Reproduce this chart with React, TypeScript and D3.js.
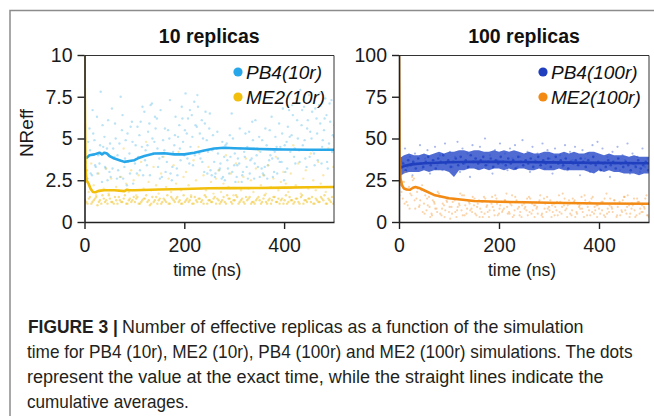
import React, { useEffect, useRef } from 'react';
import * as d3 from 'd3';

// raw NReff values sampled every STEP ns (several interleaved sets per series)
const STEP = 5;

const PB4_10_A = [4.2, 3.1, 5.6, 2.8, 4.9, 6.3, 3.5, 2.4, 5.1, 4.4, 3.0,
  6.8, 3.9, 2.6, 4.7, 5.5, 3.3, 2.2, 4.1, 6.0, 3.7,
  2.9, 5.2, 4.5, 6.6, 3.4, 5.9, 7.1, 4.8, 6.2, 3.8,
  2.7, 4.3, 3.6, 5.0, 2.5, 4.6, 3.2, 5.8, 6.9, 4.0,
  5.3, 3.5, 6.4, 7.2, 5.7, 4.1, 6.1, 3.0, 4.9, 5.6,
  2.8, 3.6, 4.4, 3.1, 2.6, 3.9, 4.7, 2.9, 6.5, 3.4,
  2.7, 3.5, 2.4, 4.2, 3.3, 5.4, 3.8, 2.6, 4.0, 5.1,
  3.2, 2.8, 4.6, 3.7, 6.3, 3.0, 4.5, 5.9, 3.6, 2.5,
  4.8, 6.7, 5.2, 3.9, 7.4, 4.3, 5.8, 6.9, 3.3, 7.6,
  5.0, 4.1, 6.2, 7.0, 3.5, 5.5, 6.4, 4.7, 7.3, 5.1];
const PB4_10_B = [3.6, 4.8, 2.9, 5.3, 3.3, 4.0, 7.8, 4.5, 3.2, 6.1, 2.7,
  4.4, 5.0, 3.1, 7.5, 2.6, 4.9, 3.6, 5.7, 2.3, 4.6,
  3.9, 6.0, 2.8, 4.3, 5.4, 7.0, 4.1, 5.6, 3.3, 6.7,
  4.9, 3.0, 5.5, 2.9, 4.2, 6.3, 5.1, 3.7, 4.8, 7.7,
  6.2, 4.5, 3.4, 5.8, 6.9, 3.8, 5.0, 6.6, 4.2, 3.1,
  5.2, 2.9, 4.1, 3.5, 2.7, 4.6, 3.2, 3.9, 5.0, 2.4,
  3.8, 4.4, 3.0, 5.3, 2.6, 3.7, 4.9, 6.1, 3.3, 4.2,
  2.9, 5.6, 3.4, 4.0, 2.7, 5.1, 3.8, 4.5, 6.8, 3.0,
  5.7, 4.2, 6.4, 3.5, 5.0, 7.9, 4.6, 3.8, 6.1, 5.4,
  4.3, 6.8, 3.7, 5.9, 4.9, 7.4, 3.2, 6.0, 5.2, 4.4];
const PB4_10_C = [5.0, 2.6, 4.3, 6.7, 3.4, 2.9, 4.6, 5.8, 3.3, 2.5, 4.7,
  3.2, 5.9, 4.0, 2.7, 6.4, 3.8, 5.3, 2.9, 4.8, 3.5,
  5.7, 3.1, 6.9, 3.7, 4.6, 2.8, 5.0, 6.3, 4.4, 2.6,
  3.9, 5.6, 4.1, 7.3, 3.3, 5.2, 2.8, 4.4, 6.2, 5.5,
  3.8, 6.7, 5.1, 4.0, 7.6, 5.3, 3.6, 5.9, 2.9, 6.5,
  4.3, 2.7, 5.4, 3.2, 4.8, 2.5, 3.7, 5.2, 3.0, 4.1,
  3.4, 5.6, 2.8, 3.9, 4.5, 2.9, 6.0, 3.5, 4.4, 2.7,
  4.9, 3.3, 2.6, 5.5, 3.8, 4.2, 2.9, 3.6, 5.3, 4.6,
  3.2, 5.1, 7.0, 4.4, 6.1, 3.6, 6.7, 4.9, 5.6, 3.9,
  6.6, 3.4, 5.3, 7.7, 4.5, 6.2, 3.6, 7.1, 4.2, 5.8];

const ME2_10_A = [1.3, 1.1, 1.5, 1.2, 1.4, 1.0, 1.3, 1.6, 1.2, 1.1, 1.4,
  1.2, 1.5, 1.1, 1.3, 1.2, 1.6, 1.1, 1.4, 1.3, 1.2,
  1.5, 1.1, 1.3, 1.4, 1.2, 1.0, 1.5, 1.3, 1.1, 1.4,
  1.2, 1.3, 1.6, 1.1, 1.4, 1.2, 1.5, 1.3, 1.1, 1.2,
  1.4, 1.3, 1.1, 1.5, 1.2, 1.4, 1.3, 1.6, 1.1, 1.3,
  1.2, 1.5, 1.4, 1.1, 1.3, 1.2, 1.6, 1.4, 1.1, 1.3,
  1.5, 1.2, 1.4, 1.1, 1.3, 1.5, 1.2, 1.1, 1.4, 1.3,
  1.2, 1.6, 1.1, 1.4, 1.3, 1.5, 1.2, 1.1, 1.4, 1.3,
  1.1, 1.5, 1.3, 1.2, 1.4, 1.1, 1.6, 1.3, 1.2, 1.4,
  1.5, 1.1, 1.3, 1.2, 1.4, 1.6, 1.1, 1.3, 1.5, 1.2];
const ME2_10_B = [2.4, 1.8, 3.5, 2.2, 1.6, 2.9, 4.1, 2.0, 3.2, 1.7, 2.6,
  3.8, 2.1, 1.9, 2.7, 4.4, 2.3, 1.8, 3.1, 2.5, 1.6,
  2.8, 3.6, 2.0, 4.8, 2.4, 1.9, 3.3, 2.2, 1.7, 2.9,
  3.9, 2.1, 2.6, 1.8, 3.4, 2.3, 4.2, 1.9, 2.7, 3.0,
  2.2, 1.6, 3.7, 2.5, 4.5, 2.0, 2.8, 1.9, 3.3, 2.4,
  1.7, 2.6, 3.1, 1.8, 2.3, 4.0, 2.1, 2.9, 1.6, 3.5,
  2.4, 1.9, 2.7, 3.8, 2.0, 2.5, 1.8, 3.2, 4.3, 2.2,
  2.8, 1.7, 3.4, 2.1, 2.6, 3.9, 1.9, 2.4, 3.0, 2.3,
  1.8, 2.9, 4.6, 2.2, 3.5, 1.7, 2.6, 3.1, 2.0, 4.1,
  2.5, 1.9, 3.6, 2.3, 2.8, 1.8, 4.4, 2.1, 3.3, 2.6];
const ME2_10_C = [1.2, 1.4, 1.1, 1.3, 1.5, 1.2, 1.1, 1.4, 1.3, 1.6, 1.2,
  1.1, 1.3, 1.5, 1.2, 1.4, 1.1, 1.3, 1.2, 1.5, 1.4,
  1.1, 1.2, 1.4, 1.6, 1.3, 1.1, 1.2, 1.5, 1.3, 1.1,
  1.4, 1.2, 1.1, 1.5, 1.3, 1.4, 1.2, 1.1, 1.6, 1.3,
  1.2, 1.5, 1.1, 1.3, 1.4, 1.2, 1.1, 1.5, 1.3, 1.2,
  1.4, 1.1, 1.3, 1.2, 1.5, 1.1, 1.4, 1.2, 1.3, 1.6,
  1.1, 1.3, 1.2, 1.5, 1.4, 1.1, 1.2, 1.3, 1.5, 1.1,
  1.4, 1.2, 1.3, 1.1, 1.5, 1.2, 1.4, 1.3, 1.1, 1.6,
  1.2, 1.3, 1.1, 1.4, 1.2, 1.5, 1.1, 1.3, 1.4, 1.2,
  1.1, 1.4, 1.2, 1.5, 1.3, 1.1, 1.4, 1.2, 1.1, 1.3];

const PB4_100_A = [30, 36, 44, 33, 39, 28, 41, 35, 46, 32, 38,
  43, 29, 37, 45, 34, 40, 31, 47, 36, 42,
  33, 39, 48, 30, 44, 35, 41, 27, 46, 38,
  32, 45, 36, 50, 34, 40, 29, 43, 37, 47,
  35, 41, 31, 44, 38, 46, 33, 39, 49, 36,
  42, 30, 45, 37, 41, 34, 47, 32, 43, 38,
  29, 44, 36, 40, 33, 46, 31, 42, 37, 45,
  34, 28, 43, 38, 41, 30, 46, 35, 48, 32,
  44, 36, 39, 27, 42, 35, 45, 31, 40, 37,
  47, 29, 41, 34, 39, 30, 44, 33, 38, 31];
const PB4_100_B = [33, 35, 31, 37, 34, 36, 32, 38, 35, 33, 36,
  39, 34, 37, 32, 38, 36, 40, 35, 37, 33,
  36, 38, 34, 39, 35, 37, 33, 40, 36, 38,
  35, 37, 39, 34, 36, 38, 33, 37, 35, 39,
  36, 34, 38, 35, 37, 32, 39, 36, 34, 37,
  35, 38, 33, 36, 39, 34, 37, 35, 38, 33,
  36, 39, 35, 37, 34, 38, 32, 36, 35, 37,
  34, 38, 36, 33, 37, 35, 39, 34, 36, 31,
  35, 33, 37, 34, 36, 32, 38, 35, 33, 36,
  34, 31, 35, 33, 37, 32, 34, 36, 31, 35];

// dense core of PB4(100r), every 10 ns
const BAND_STEP = 10;
const PB4_100_HI = [38, 40, 41, 40, 40, 41, 40, 41, 42, 41, 42,
  42, 43, 43, 42, 43, 43, 42, 42, 43, 42,
  43, 42, 43, 42, 41, 42, 41, 41, 42, 42,
  41, 41, 42, 41, 42, 41, 41, 42, 42, 41,
  40, 41, 40, 40, 40, 39, 40, 39, 39, 39];
const PB4_100_LO = [27, 29, 30, 30, 30, 31, 30, 31, 31, 31, 30,
  27, 31, 31, 32, 32, 31, 32, 31, 32, 32,
  31, 32, 31, 32, 32, 31, 31, 32, 31, 31,
  31, 32, 31, 31, 31, 31, 31, 30, 29, 31,
  30, 31, 30, 30, 29, 29, 29, 28, 29, 29];

const ME2_100_A = [28, 18, 24, 12, 21, 16, 26, 14, 9, 19, 11,
  7, 15, 5, 12, 8, 17, 4, 10, 13, 6,
  9, 14, 3, 11, 7, 16, 5, 12, 8, 10,
  4, 13, 6, 15, 9, 3, 11, 7, 14, 5,
  12, 8, 17, 6, 10, 4, 13, 9, 3, 11,
  7, 15, 5, 10, 8, 12, 4, 14, 6, 9,
  3, 11, 7, 16, 5, 10, 8, 13, 4, 12,
  6, 9, 15, 3, 11, 7, 14, 5, 10, 8,
  12, 4, 17, 6, 9, 13, 3, 11, 7, 15,
  5, 10, 8, 14, 4, 12, 6, 9, 16, 3];
const ME2_100_B = [22, 14, 30, 10, 17, 25, 8, 20, 13, 6, 16,
  10, 3, 13, 8, 18, 5, 11, 7, 14, 2,
  12, 6, 9, 17, 4, 10, 13, 7, 15, 5,
  11, 8, 3, 14, 6, 12, 9, 16, 4, 10,
  7, 13, 5, 11, 3, 15, 8, 6, 12, 9,
  4, 14, 7, 10, 5, 16, 3, 11, 8, 13,
  6, 9, 4, 12, 17, 7, 10, 5, 14, 3,
  11, 8, 6, 13, 9, 4, 15, 7, 10, 5,
  12, 3, 8, 14, 6, 11, 9, 4, 13, 7,
  16, 5, 10, 3, 12, 8, 6, 14, 4, 11];
const ME2_100_C = [16, 24, 11, 20, 8, 27, 13, 18, 10, 22, 5,
  14, 9, 4, 11, 6, 15, 8, 3, 12, 9,
  5, 13, 7, 10, 16, 4, 8, 11, 6, 14,
  9, 3, 12, 5, 10, 7, 15, 4, 11, 8,
  6, 13, 9, 5, 16, 7, 12, 4, 10, 8,
  14, 6, 11, 3, 9, 13, 5, 8, 15, 7,
  10, 4, 12, 6, 9, 14, 3, 11, 7, 13,
  5, 10, 8, 16, 4, 12, 6, 9, 3, 11,
  7, 14, 5, 10, 8, 13, 4, 12, 6, 15,
  9, 3, 11, 7, 14, 5, 10, 8, 4, 12];

// cumulative averages
const PB4_10_AVG_T = [0, 5, 10, 20, 30, 35, 40, 45, 50, 60, 70, 80, 90, 100, 110, 120, 140, 160, 180, 200, 220, 240, 260, 280, 300, 320, 350, 380, 400, 450, 500];
const PB4_10_AVG = [3.9, 3.85, 4.0, 4.05, 4.15, 4.05, 4.15, 4.1, 3.95, 3.8, 3.7, 3.6, 3.65, 3.7, 3.85, 3.95, 4.1, 4.12, 4.05, 4.05, 4.15, 4.28, 4.4, 4.45, 4.42, 4.4, 4.37, 4.35, 4.34, 4.33, 4.33];
const ME2_10_AVG_T = [0, 1, 2, 4, 8, 12, 17, 22, 27, 32, 40, 60, 80, 85, 90, 100, 150, 200, 250, 300, 350, 400, 450, 500];
const ME2_10_AVG = [10, 6, 3.2, 2.5, 2.3, 2.0, 1.8, 1.78, 1.85, 1.88, 1.9, 1.9, 1.85, 1.93, 1.9, 1.9, 1.95, 1.98, 2.02, 2.03, 2.04, 2.06, 2.08, 2.1];
const PB4_100_AVG_T = [0, 10, 25, 50, 100, 150, 200, 250, 300, 400, 500];
const PB4_100_AVG = [32, 33.5, 34.5, 35.2, 35.8, 36.1, 36.0, 35.9, 35.7, 35.4, 35.2];
const ME2_100_AVG_T = [0, 1, 3, 6, 10, 15, 22, 28, 33, 40, 50, 70, 100, 150, 200, 250, 300, 400, 500];
const ME2_100_AVG = [100, 40, 26, 22, 20, 19.5, 19.3, 20.5, 21, 20.4, 19, 16.2, 14.2, 12.6, 12.1, 11.8, 11.5, 11.1, 10.9];

const X_TICKS = [0, 200, 400];
const Y_TICKS_10 = [0, 2.5, 5, 7.5, 10];
const Y_TICKS_100 = [0, 25, 50, 75, 100];

const CAPTION_LABEL = 'FIGURE 3 |';
const CAPTION = [
  'Number of effective replicas as a function of the simulation',
  'time for PB4 (10r), ME2 (10r), PB4 (100r) and ME2 (100r) simulations. The dots',
  'represent the value at the exact time, while the straight lines indicate the',
  'cumulative averages.',
];

const FONT = 'Liberation Sans, Arial, Helvetica, sans-serif';

const App = () => {
  const ref = useRef<SVGSVGElement>(null);

  useEffect(() => {
    const svg = d3.select(ref.current);
    svg.selectAll('*').remove();

    // figure frame
    svg.append('path').attr('d', 'M10,416V10.5H654')
      .attr('fill', 'none').attr('stroke', '#8c8c8c').attr('stroke-width', 1.5);

    const drawPanel = (opts: any) => {
      const x = d3.scaleLinear().domain([0, 500]).range([opts.left, opts.right]);
      const y = d3.scaleLinear().domain([0, opts.yMax]).range([222, 55]);
      const g = svg.append('g');

      const clipId = 'clip' + opts.yMax;
      svg.append('clipPath').attr('id', clipId).append('rect')
        .attr('x', opts.left).attr('y', 55).attr('width', opts.right - opts.left).attr('height', 167);
      const plot = g.append('g').attr('clip-path', `url(#${clipId})`);

      if (opts.band) {
        const area = d3.area<number>()
          .x((_, i) => x(i * BAND_STEP))
          .y0((_, i) => y(opts.band.lo[i]))
          .y1((d) => y(d));
        plot.append('path').datum(opts.band.hi).attr('d', area)
          .attr('fill', opts.band.color).attr('opacity', 0.78);
      }

      opts.dots.forEach((s: any) => {
        plot.append('g').selectAll('circle').data(s.values).enter().append('circle')
          .attr('cx', (_: number, i: number) => x(i * STEP + s.offset))
          .attr('cy', (d: number) => y(d))
          .attr('r', s.r || 1.1)
          .attr('fill', s.color)
          .attr('opacity', s.opacity);
      });

      opts.lines.forEach((s: any) => {
        const line = d3.line<number>().x((_, i) => x(s.t[i])).y((d) => y(d));
        plot.append('path').datum(s.v).attr('d', line)
          .attr('fill', 'none').attr('stroke', s.color).attr('stroke-width', 2.6)
          .attr('stroke-linejoin', 'round');
      });

      // frame top/right
      g.append('path').attr('d', `M${opts.left},55.5H${opts.right}V222`)
        .attr('fill', 'none').attr('stroke', '#333').attr('stroke-width', 1);

      const xAxis = g.append('g').attr('transform', 'translate(0,222)')
        .call(d3.axisBottom(x).tickValues(X_TICKS).tickSize(7).tickSizeOuter(0).tickPadding(9));
      const yAxis = g.append('g').attr('transform', `translate(${opts.left},0)`)
        .call(d3.axisLeft(y).tickValues(opts.yTicks).tickFormat((d: any) => String(d))
          .tickSize(7).tickSizeOuter(0).tickPadding(5));
      [xAxis, yAxis].forEach((a) => {
        a.select('.domain').attr('stroke', '#222').attr('stroke-width', 1.6);
        a.selectAll('line').attr('stroke', '#222').attr('stroke-width', 1.4);
        a.selectAll('text').style('font-family', FONT).style('font-size', '19.5px').attr('fill', '#1a1a1a');
      });

      const cx = (opts.left + opts.right) / 2;
      g.append('text').attr('x', cx).attr('y', 43).attr('text-anchor', 'middle')
        .style('font-family', FONT).style('font-size', '19.5px').style('font-weight', 'bold')
        .attr('fill', '#111').text(opts.title);
      g.append('text').attr('x', cx - 2).attr('y', 276).attr('text-anchor', 'middle')
        .style('font-family', FONT).style('font-size', '17.5px').attr('fill', '#1a1a1a')
        .text('time (ns)');

      // legend
      opts.legend.forEach((l: any, i: number) => {
        const ly = 72 + i * 25;
        g.append('circle').attr('cx', opts.legendX).attr('cy', ly).attr('r', 4.6).attr('fill', l.color);
        g.append('text').attr('x', opts.legendX + 8).attr('y', ly + 7)
          .style('font-family', FONT).style('font-size', '19px').style('font-style', 'italic')
          .attr('fill', '#111').text(l.label);
      });
    };

    drawPanel({
      left: 84.5, right: 334, yMax: 10, yTicks: Y_TICKS_10, title: '10 replicas', legendX: 238,
      dots: [
        { values: PB4_10_A, offset: 0, color: '#2aa8e4', opacity: 0.32, r: 1.2 },
        { values: PB4_10_B, offset: 2.5, color: '#2aa8e4', opacity: 0.32, r: 1.2 },
        { values: PB4_10_C, offset: 1.2, color: '#2aa8e4', opacity: 0.32, r: 1.2 },
        { values: ME2_10_A, offset: 1, color: '#f0c01a', opacity: 0.5, r: 1.2 },
        { values: ME2_10_C, offset: 3.7, color: '#f0c01a', opacity: 0.5, r: 1.2 },
        { values: ME2_10_B, offset: 3.5, color: '#f0c01a', opacity: 0.35, r: 1.2 },
      ],
      lines: [
        { t: PB4_10_AVG_T, v: PB4_10_AVG, color: '#27a7ea' },
        { t: ME2_10_AVG_T, v: ME2_10_AVG, color: '#f2bf0c' },
      ],
      legend: [
        { label: 'PB4(10r)', color: '#27a7ea' },
        { label: 'ME2(10r)', color: '#f2bf0c' },
      ],
    });

    drawPanel({
      left: 399, right: 649, yMax: 100, yTicks: Y_TICKS_100, title: '100 replicas', legendX: 543,
      band: { hi: PB4_100_HI, lo: PB4_100_LO, color: '#1f42c6' },
      dots: [
        { values: PB4_100_A, offset: 2, color: '#2a4fd0', opacity: 0.4 },
        { values: PB4_100_B, offset: 3.5, color: '#1a3cc0', opacity: 0.7, r: 1.3 },
        { values: ME2_100_A, offset: 0, color: '#f2932e', opacity: 0.4 },
        { values: ME2_100_B, offset: 2.5, color: '#f2932e', opacity: 0.4 },
        { values: ME2_100_C, offset: 1.2, color: '#f2932e', opacity: 0.4 },
      ],
      lines: [
        { t: PB4_100_AVG_T, v: PB4_100_AVG, color: '#1f3fbf' },
        { t: ME2_100_AVG_T, v: ME2_100_AVG, color: '#f28a14' },
      ],
      legend: [
        { label: 'PB4(100r)', color: '#1f3fbf' },
        { label: 'ME2(100r)', color: '#f28a14' },
      ],
    });

    // y label
    svg.append('text').attr('transform', 'translate(33,133) rotate(-90)').attr('text-anchor', 'middle')
      .style('font-family', FONT).style('font-size', '19px').attr('fill', '#1a1a1a').text('NReff');

    // caption: condensed face faked by measuring each line and squeezing it horizontally
    const capLine = (txt: string, x0: number, x1: number, yb: number, bold: boolean) => {
      const t = svg.append('text').attr('x', 0).attr('y', 0)
        .style('font-family', FONT).style('font-size', '18px')
        .style('font-weight', bold ? 'bold' : 'normal').attr('fill', '#231f20').text(txt);
      const w = (t.node() as SVGTextElement).getComputedTextLength() || 1;
      t.attr('transform', `translate(${x0},${yb}) scale(${(x1 - x0) / w},1)`);
    };
    capLine(CAPTION_LABEL, 28, 118, 333, true);
    const starts = [122, 27, 27, 27];
    const ends = [584, 633, 604, 189];
    CAPTION.forEach((line, i) => capLine(line, starts[i], ends[i], 333 + i * 25, false));
  }, []);

  return (
    <div style={{ position: 'absolute', left: 0, top: 0 }}>
      <svg ref={ref} width={654} height={416} style={{ display: 'block', background: '#fff' }} />
    </div>
  );
};

export default App;
